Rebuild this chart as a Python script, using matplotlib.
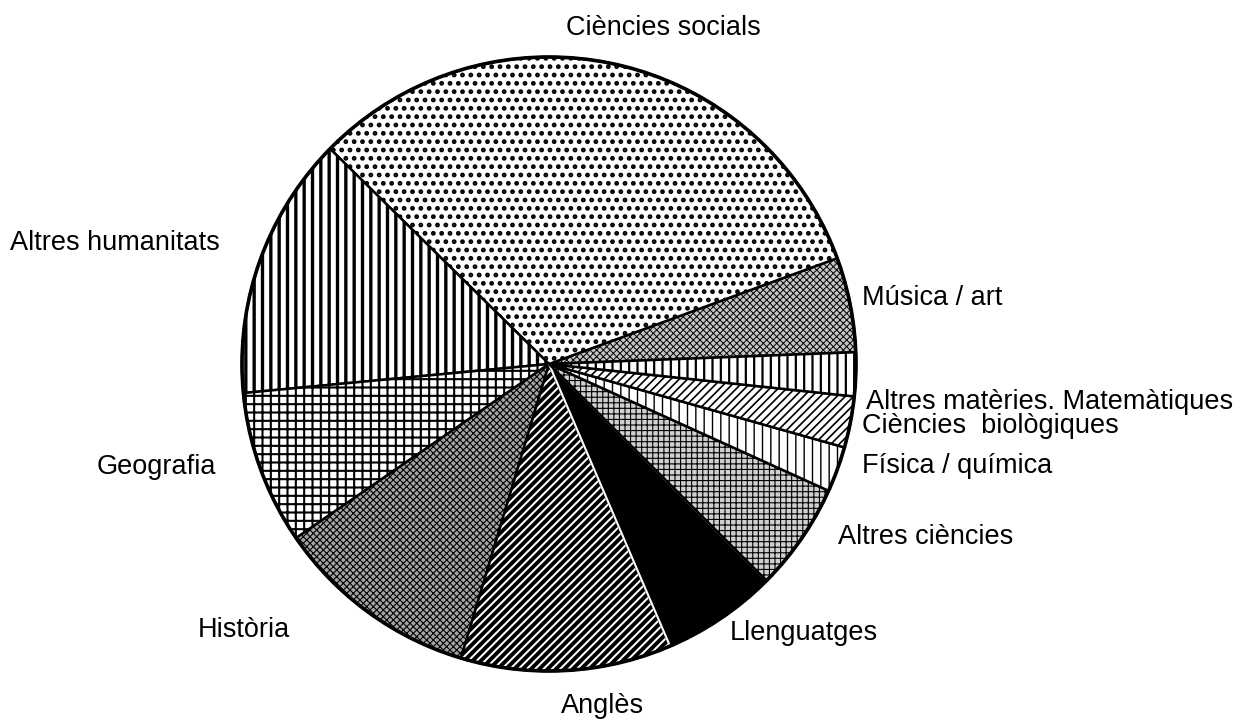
import matplotlib
matplotlib.use("Agg")
import matplotlib.pyplot as plt
from matplotlib.patches import Circle

plt.rcParams['font.family'] = ['Liberation Sans', 'DejaVu Sans']

# Data (percent share, counter-clockwise starting just above 3 o'clock)
categories = ["Música / art", "Ciències socials", "Altres humanitats", "Geografia",
              "Història", "Anglès", "Llenguatges", "Altres ciències",
              "Física / química", "Ciències  biològiques", "Altres matèries. Matemàtiques"]
values = [5.0, 32.1, 13.9, 8.1, 10.8, 11.1, 6.1, 5.7, 2.4, 2.7, 2.3]

# styles: hatch, facecolor, hatch linewidth
hatches = ['xxxxx', '..', '||', '++', 'xxxxx', '////', '', '+++', '||', '////', '||']
faces = ['#c4c4c4', 'white', 'white', 'white', '#a4a4a4', 'white', 'black', '#cfcfcf',
         'white', 'white', 'white']
hatch_lw = [0.7, 2.2, 2.4, 1.5, 0.8, 2.8, 1.0, 0.8, 1.0, 1.2, 1.6]
# label anchors in image pixels (x, y from top) and horizontal alignment
label_px = [(862, 298), (663, 28), (10, 243), (97, 467), (198, 630), (603, 706),
            (730, 633), (838, 537), (862, 466), (862, 426), (866, 402)]
label_ha = ['left', 'center', 'left', 'left', 'left', 'center',
            'left', 'left', 'left', 'left', 'left']

W, H = 1241, 720
cx, cy, R = 549, 364, 307

fig = plt.figure(figsize=(W / 100, H / 100), dpi=100)
ax = fig.add_axes([0, 0, 1, 1])

wedges, _ = ax.pie(values, startangle=2.2, counterclock=True, radius=1.0,
                   center=(0, 0), frame=True,
                   wedgeprops=dict(linewidth=1.8, edgecolor='black'))
ax.set_xlim(-cx / R, (W - cx) / R)
ax.set_ylim(-(H - cy) / R, cy / R)
ax.set_aspect('auto')
ax.axis('off')

for w, h, f, lw in zip(wedges, hatches, faces, hatch_lw):
    w.set_facecolor(f)
    w.set_hatch(h)
    if hasattr(w, 'set_hatch_linewidth'):
        w.set_hatch_linewidth(lw)

# white separator for the black wedge
wedges[6].set_edgecolor('white')
wedges[6].set_linewidth(1.5)

ax.add_patch(Circle((0, 0), 1.0, fill=False, edgecolor='black', linewidth=2.6, zorder=5))

for name, (px, py), ha in zip(categories, label_px, label_ha):
    ax.text((px - cx) / R, (cy - py) / R, name, ha=ha, va='center',
            fontsize=19.5, color='black')

fig.savefig('out.png', dpi=100)
